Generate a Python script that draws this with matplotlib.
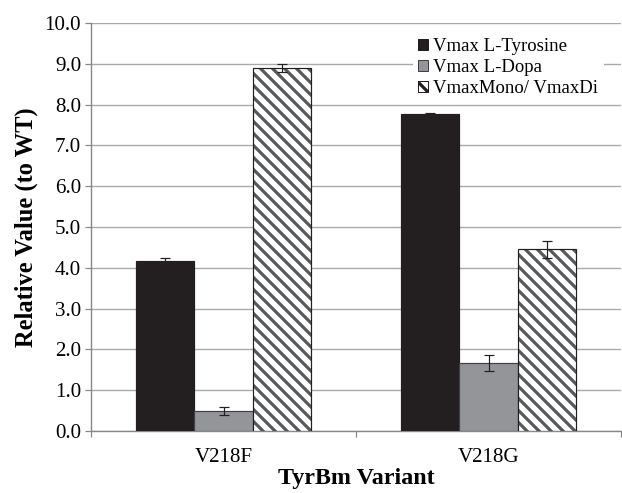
import matplotlib

matplotlib.use("Agg")
import matplotlib.pyplot as plt
import numpy as np
from matplotlib.patches import Patch

variants = ["V218F", "V218G"]
series = ["Vmax L-Tyrosine", "Vmax L-Dopa", "VmaxMono/ VmaxDi"]
vmax_tyr = [4.17, 7.76]
vmax_dopa = [0.49, 1.67]
mono_di = [8.89, 4.45]
err_tyr = [0.06, 0.03]
err_dopa = [0.09, 0.2]
err_ratio = [0.1, 0.2]

plt.rcParams["font.family"] = ["Liberation Serif", "DejaVu Serif"]
plt.rcParams["hatch.linewidth"] = 3.2

DPI = 72
fig = plt.figure(figsize=(622 / DPI, 493 / DPI), dpi=DPI)
ax = fig.add_axes([91 / 622, 1 - 431 / 493, 530 / 622, 408 / 493])

x = np.arange(len(variants))
w = 0.22
HATCH_GREY = "#58595b"
styles = [
    dict(color="#231f20", edgecolor="#231f20"),
    dict(color="#939598", edgecolor="#414042"),
    dict(facecolor="white", edgecolor=HATCH_GREY, hatch="\\\\"),
]
data = [(vmax_tyr, err_tyr), (vmax_dopa, err_dopa), (mono_di, err_ratio)]
for i, ((vals, errs), st) in enumerate(zip(data, styles)):
    ax.bar(x + (i - 1) * w, vals, w, linewidth=0 if "hatch" in st else 1.2,
           zorder=3, **st)
    if "hatch" in st:
        # black outline on top of the grey stripes
        ax.bar(x + (i - 1) * w, vals, w, fill=False, edgecolor="#231f20",
               linewidth=1.2, zorder=3.5)
    ax.errorbar(x + (i - 1) * w, vals, yerr=errs, fmt="none", ecolor="#231f20",
                elinewidth=1.2, capsize=5, capthick=1.2, zorder=4)

ax.set_xlim(-0.5, 1.5)
ax.set_ylim(0, 10)
ax.set_yticks(np.arange(0, 10.5, 1.0))
ax.set_yticklabels([f"{v:.1f}" for v in np.arange(0, 10.5, 1.0)], fontsize=21)
ax.set_xticks(x)
ax.set_xticklabels(variants, fontsize=21)
ax.set_xticks([-0.5, 0.5, 1.5], minor=True)
ax.tick_params(axis="x", which="major", length=0, pad=17)
ax.tick_params(axis="x", which="minor", length=6, color="#888888", width=1.2)
ax.tick_params(axis="y", length=6, color="#888888", width=1.2, pad=4)
ax.grid(axis="y", color="#aaaaaa", linewidth=1.4, zorder=0)
ax.set_axisbelow(True)
for s in ["top", "right"]:
    ax.spines[s].set_visible(False)
for s in ["left", "bottom"]:
    ax.spines[s].set_color("#888888")
    ax.spines[s].set_linewidth(1.4)

ax.set_ylabel("Relative Value (to WT)", fontsize=24.5, fontweight="bold", labelpad=6)
ax.set_xlabel("TyrBm Variant", fontsize=24, fontweight="bold", labelpad=1)

handles = [Patch(facecolor="#231f20", edgecolor="#231f20"),
           Patch(facecolor="#939598", edgecolor="#414042"),
           Patch(facecolor="white", edgecolor="#231f20", hatch="\\\\")]
leg = ax.legend(handles, series, loc="upper right", bbox_to_anchor=(0.985, 1.0),
                fontsize=18.7, frameon=True, fancybox=False, handlelength=0.55,
                handleheight=0.55, handletextpad=0.25, labelspacing=0.22,
                borderpad=0.3)
leg.get_frame().set_edgecolor("none")
leg.get_frame().set_facecolor("white")
leg.get_frame().set_alpha(1)
leg.set_zorder(5)

fig.savefig("out.png", dpi=DPI)
